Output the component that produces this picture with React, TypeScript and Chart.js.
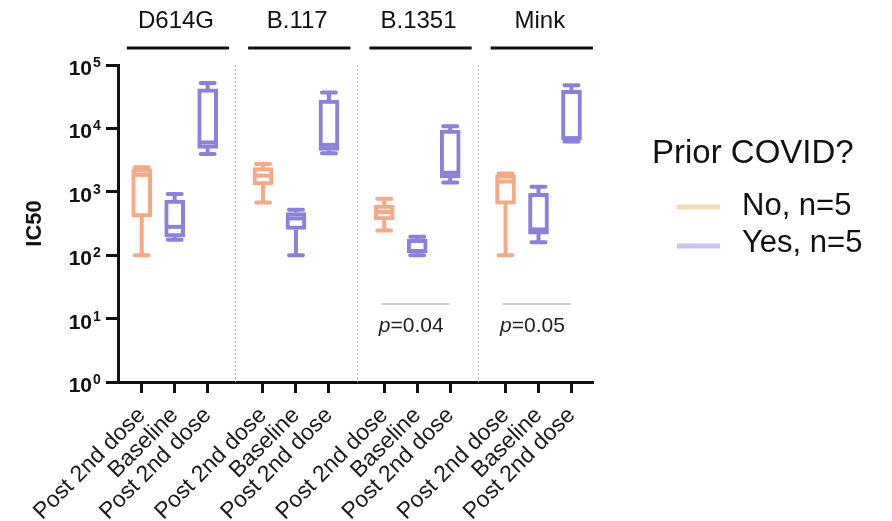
import { useEffect, useRef } from "react";
import { Chart, registerables } from "chart.js";

Chart.register(...registerables);

// ---------- data ----------
const variants = ["D614G", "B.117", "B.1351", "Mink"];
const conditionLabels = ["Post 2nd dose", "Baseline", "Post 2nd dose"];
const conditionSeries = [0, 1, 1]; // 0 = No prior COVID, 1 = Yes
const seriesNames = ["No, n=5", "Yes, n=5"];
const legendTitle = "Prior COVID?";
const yAxisTitle = "IC50";
const yTickValues = [1, 10, 100, 1000, 10000, 100000];
const pValueLabels = ["", "", "0.04", "0.05"];

// box order: D614G (No post, Yes base, Yes post), B.117 (...), B.1351 (...), Mink (...)
const boxMin = [100, 175, 3950, 680, 100, 4050, 245, 100, 1400, 100, 160, 6200];
const boxQ1 = [400, 195, 4850, 1280, 255, 4500, 360, 110, 1650, 640, 215, 6500];
const boxMedian = [1850, 280, 6000, 1800, 380, 5500, 480, 168, 2000, 1450, 255, 7000];
const boxQ3 = [2300, 740, 42000, 2400, 470, 28000, 620, 180, 9400, 1850, 950, 40000];
const boxMax = [2450, 920, 52000, 2750, 520, 37000, 780, 195, 10800, 1950, 1200, 48000];

// ---------- styles ----------
const FONT = "'Liberation Sans', Arial, Helvetica, sans-serif";
const seriesColors = ["#F5A987", "#8A80DD"];
const swatchColors = ["#F2DCB4", "#CAC4EE"];
const GROUP_STRIDE = 3.676;
const X_MIN = -0.718;
const X_MAX = 13.68;

const xPos = (i: number) => Math.floor(i / 3) * GROUP_STRIDE + (i % 3);

const boxPlugin = {
  id: "boxExtras",
  beforeDatasetsDraw(chart: any) {
    const { ctx, chartArea, scales } = chart;
    const x = scales.x;
    ctx.save();
    ctx.strokeStyle = "#bdbdbd";
    ctx.lineWidth = 1;
    ctx.setLineDash([2, 2]);
    for (let g = 1; g < variants.length; g++) {
      const mid = ((g - 1) * GROUP_STRIDE + 2 + g * GROUP_STRIDE) / 2;
      const px = Math.round(x.getPixelForValue(mid)) + 0.5;
      ctx.beginPath();
      ctx.moveTo(px, chartArea.top);
      ctx.lineTo(px, chartArea.bottom);
      ctx.stroke();
    }
    ctx.restore();
  },
  afterDatasetsDraw(chart: any) {
    const { ctx, scales } = chart;
    const x = scales.x;
    const y = scales.y;
    ctx.save();
    for (let i = 0; i < boxMin.length; i++) {
      const color = seriesColors[conditionSeries[i % 3]];
      const cx = x.getPixelForValue(xPos(i));
      const yMin = y.getPixelForValue(boxMin[i]);
      const yQ1 = y.getPixelForValue(boxQ1[i]);
      const yMed = y.getPixelForValue(boxMedian[i]);
      const yQ3 = y.getPixelForValue(boxQ3[i]);
      const yMax = y.getPixelForValue(boxMax[i]);
      ctx.strokeStyle = color;
      ctx.lineWidth = 4;
      ctx.lineCap = "butt";
      ctx.beginPath();
      ctx.moveTo(cx, yQ3);
      ctx.lineTo(cx, yMax);
      ctx.moveTo(cx, yQ1);
      ctx.lineTo(cx, yMin);
      ctx.stroke();
      ctx.lineCap = "round";
      ctx.beginPath();
      ctx.moveTo(cx - 7, yMax);
      ctx.lineTo(cx + 7, yMax);
      ctx.moveTo(cx - 7, yMin);
      ctx.lineTo(cx + 7, yMin);
      ctx.stroke();
      ctx.lineCap = "butt";
      ctx.beginPath();
      ctx.moveTo(cx - 8, yMed);
      ctx.lineTo(cx + 8, yMed);
      ctx.stroke();
    }
    ctx.restore();
  },
  afterDraw(chart: any) {
    const { ctx, chartArea, scales } = chart;
    const x = scales.x;
    const y = scales.y;
    ctx.save();
    // y tick labels with superscript exponent
    ctx.fillStyle = "#111";
    for (const v of yTickValues) {
      const py = y.getPixelForValue(v);
      const exp = String(Math.round(Math.log10(v)));
      ctx.font = `bold 21px ${FONT}`;
      ctx.textAlign = "right";
      ctx.textBaseline = "alphabetic";
      ctx.fillText("10", chartArea.left - 26, py + 10);
      ctx.font = `bold 14px ${FONT}`;
      ctx.textAlign = "left";
      ctx.fillText(exp, chartArea.left - 25, py + 2);
    }
    // variant headers
    for (let g = 0; g < variants.length; g++) {
      const x1 = x.getPixelForValue(g * GROUP_STRIDE - 0.45);
      const x2 = x.getPixelForValue(g * GROUP_STRIDE + 2 + 0.65);
      ctx.strokeStyle = "#111";
      ctx.lineWidth = 3;
      ctx.beginPath();
      ctx.moveTo(x1, 48);
      ctx.lineTo(x2, 48);
      ctx.stroke();
      ctx.font = `24px ${FONT}`;
      ctx.textAlign = "center";
      ctx.fillStyle = "#111";
      ctx.fillText(variants[g], (x1 + x2) / 2 - 2, 28);
    }
    // p-value annotations
    for (let g = 0; g < variants.length; g++) {
      const label = pValueLabels[g];
      if (!label) continue;
      const xa = x.getPixelForValue(xPos(g * 3));
      const xb = x.getPixelForValue(xPos(g * 3 + 2));
      const ly = chartArea.bottom - 78;
      ctx.strokeStyle = "#b8b8b8";
      ctx.lineWidth = 1.5;
      ctx.beginPath();
      ctx.moveTo(xa - 3, ly);
      ctx.lineTo(xb - 1, ly);
      ctx.stroke();
      const cx = x.getPixelForValue(xPos(g * 3 + 1)) - 6;
      ctx.font = `italic 21px ${FONT}`;
      const wp = ctx.measureText("p").width;
      ctx.font = `21px ${FONT}`;
      const rest = "=" + label;
      const wr = ctx.measureText(rest).width;
      const left = cx - (wp + wr) / 2;
      const by = chartArea.bottom - 50;
      ctx.fillStyle = "#222";
      ctx.textAlign = "left";
      ctx.font = `italic 21px ${FONT}`;
      ctx.fillText("p", left, by);
      ctx.font = `21px ${FONT}`;
      ctx.fillText(rest, left + wp, by);
    }
    // legend
    ctx.fillStyle = "#111";
    ctx.textAlign = "left";
    ctx.font = `33px ${FONT}`;
    ctx.fillText(legendTitle, 652, 163);
    const itemY = [207, 246];
    const textY = [215, 252];
    for (let s = 0; s < seriesNames.length; s++) {
      ctx.strokeStyle = swatchColors[s];
      ctx.lineWidth = 5;
      ctx.lineCap = "butt";
      ctx.beginPath();
      ctx.moveTo(677, itemY[s]);
      ctx.lineTo(720, itemY[s]);
      ctx.stroke();
      ctx.font = `31px ${FONT}`;
      ctx.fillStyle = "#111";
      ctx.fillText(seriesNames[s], 742, textY[s]);
    }
    ctx.restore();
  },
};

export default function App() {
  const canvasRef = useRef<HTMLCanvasElement | null>(null);

  useEffect(() => {
    if (!canvasRef.current) return;
    Chart.defaults.font.family = FONT;
    const tickPositions = boxMin.map((_, i) => xPos(i));
    const datasets = seriesNames.map((name, s) => ({
      type: "bar" as const,
      label: name,
      data: boxMin
        .map((_, i) => i)
        .filter((i) => conditionSeries[i % 3] === s)
        .map((i) => ({ x: xPos(i), y: [boxQ1[i], boxQ3[i]] })),
      backgroundColor: "#ffffff",
      borderColor: seriesColors[s],
      borderWidth: 4,
      borderSkipped: false,
      barThickness: 20,
      grouped: false,
    }));

    const chart = new Chart(canvasRef.current, {
      type: "bar",
      data: { datasets: datasets as any },
      plugins: [boxPlugin],
      options: {
        animation: false,
        responsive: false,
        devicePixelRatio: 1,
        layout: { padding: { left: 0, top: 65, right: 299, bottom: 0 } },
        plugins: { legend: { display: false }, tooltip: { enabled: false } },
        scales: {
          x: {
            type: "linear",
            offset: false,
            min: X_MIN,
            max: X_MAX,
            afterBuildTicks: (scale: any) => {
              scale.ticks = tickPositions.map((v) => ({ value: v }));
            },
            afterFit: (scale: any) => {
              scale.height = 139;
            },
            ticks: {
              autoSkip: false,
              minRotation: 45,
              maxRotation: 45,
              padding: 9,
              color: "#1a1a1a",
              font: { size: 23, family: FONT },
              callback: (_v: any, index: number) => conditionLabels[index % 3],
            },
            grid: {
              display: true,
              offset: false,
              drawOnChartArea: false,
              drawTicks: true,
              tickLength: 11,
              tickWidth: 3,
              tickColor: "#111",
            },
            border: { display: true, color: "#111", width: 3 },
          },
          y: {
            type: "logarithmic",
            min: 1,
            max: 100000,
            afterBuildTicks: (scale: any) => {
              scale.ticks = yTickValues.map((v) => ({ value: v, major: true }));
            },
            afterFit: (scale: any) => {
              scale.width = 118;
            },
            ticks: { display: false },
            grid: {
              display: true,
              drawOnChartArea: false,
              drawTicks: true,
              tickLength: 12,
              tickWidth: 3,
              tickColor: "#111",
            },
            border: { display: true, color: "#111", width: 3 },
            title: {
              display: true,
              text: yAxisTitle,
              color: "#111",
              font: { size: 22, weight: "bold", family: FONT },
              padding: { top: 22, bottom: 0 },
            },
          },
        },
      } as any,
    });
    return () => chart.destroy();
  }, []);

  return (
    <div style={{ position: "absolute", left: 0, top: 0, width: 892, height: 521, background: "#fff" }}>
      <canvas ref={canvasRef} width={892} height={521} />
    </div>
  );
}
